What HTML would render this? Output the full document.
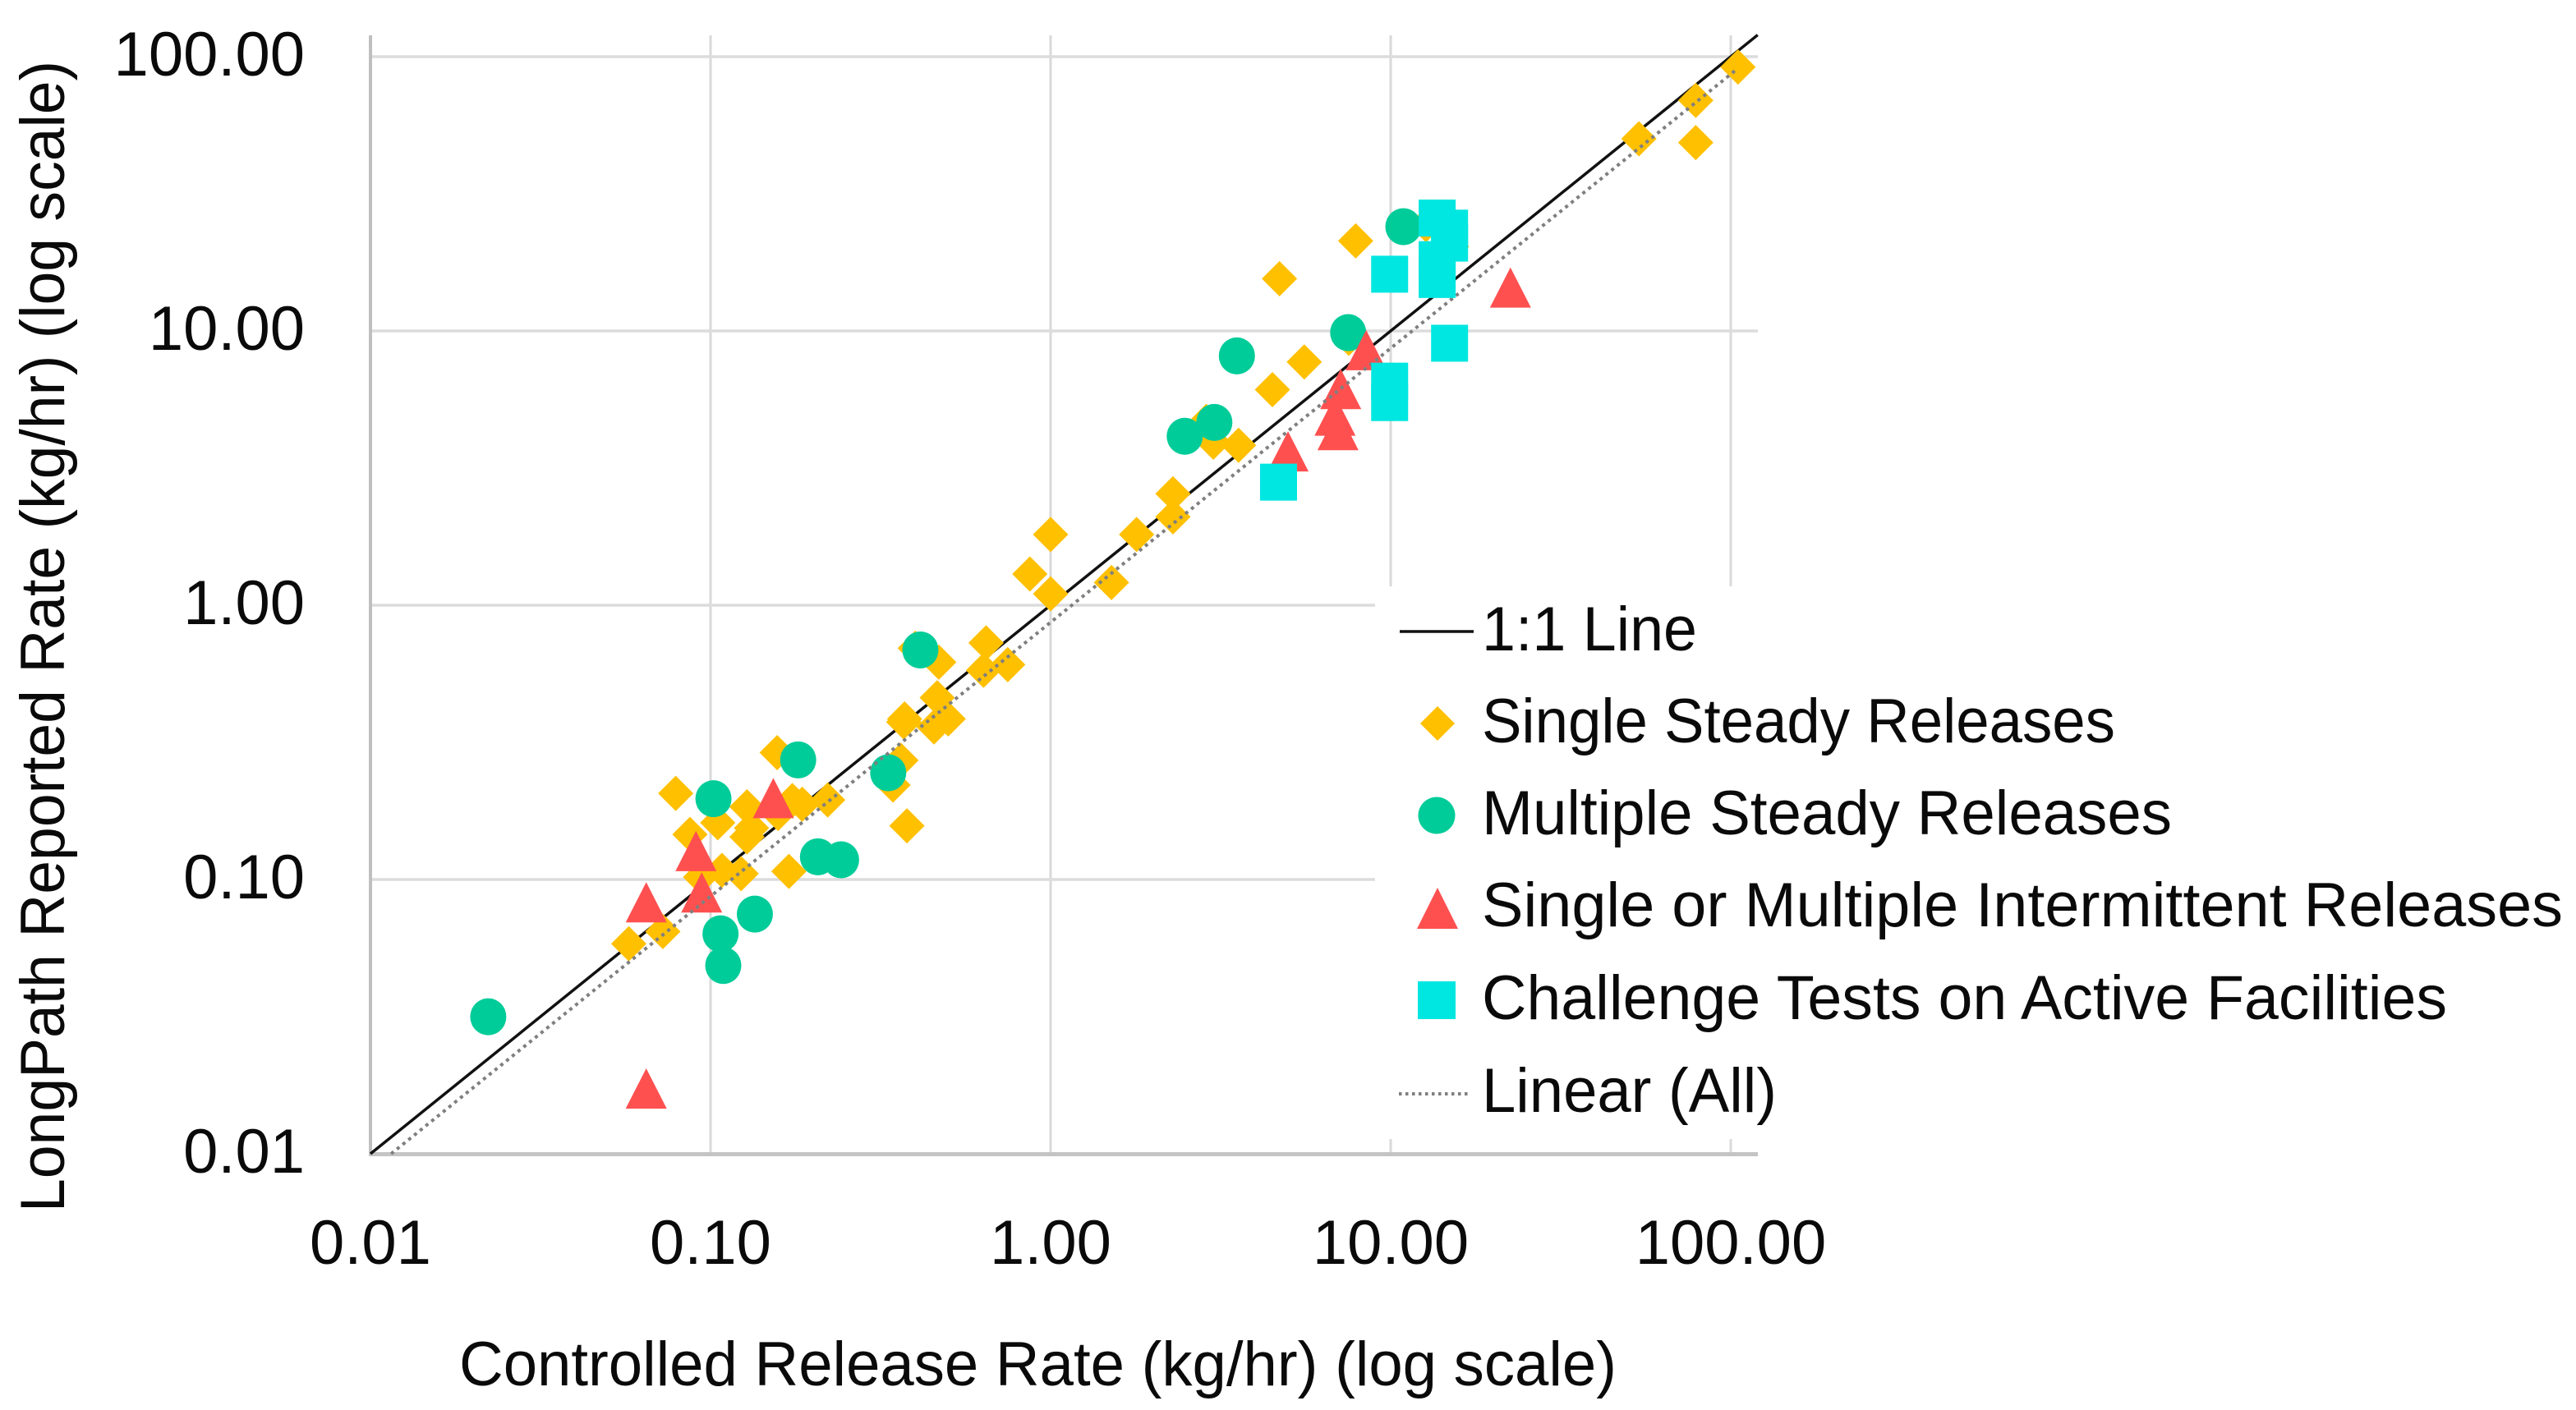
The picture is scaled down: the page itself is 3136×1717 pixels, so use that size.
<!DOCTYPE html>
<html lang="en">
<head>
<meta charset="utf-8">
<title>LongPath Reported Rate vs Controlled Release Rate</title>
<style>
  html, body { margin: 0; padding: 0; background: #ffffff; }
  body { width: 3136px; height: 1717px; overflow: hidden; }
  svg { display: block; }
  text { font-family: "Liberation Sans", sans-serif; fill: #0a0a0a; font-size: 76px; }
</style>
</head>
<body>
<svg id="chart" xmlns="http://www.w3.org/2000/svg" width="3136" height="1717" viewBox="0 0 3136 1717">
  <rect x="0" y="0" width="3136" height="1717" fill="#ffffff"/>
  <g id="grid"></g>
  <line x1="451" y1="43" x2="451" y2="1407" stroke="#bfbfbf" stroke-width="4"/>
  <line x1="449" y1="1405.5" x2="2140" y2="1405.5" stroke="#c4c4c4" stroke-width="5"/>
  <g id="ticks"></g>
  <g id="one-to-one"></g>
  <g id="diamonds"></g>
  <g id="circles"></g>
  <g id="triangles"></g>
  <g id="trend"></g>
  <g id="squares"></g>

  <g>
    <rect x="1674" y="714" width="1462" height="673" fill="#ffffff"/>
    <g>
      <line x1="1704" y1="769" x2="1794" y2="769" stroke="#111111" stroke-width="3.5"/>
      <text x="1804" y="792" textLength="262" lengthAdjust="spacingAndGlyphs">1:1 Line</text>
    </g>
    <g>
      <polygon points="1750,860 1771,881 1750,902 1729,881" fill="#FFC000"/>
      <text x="1804" y="904" textLength="771" lengthAdjust="spacingAndGlyphs">Single Steady Releases</text>
    </g>
    <g>
      <circle cx="1749" cy="993" r="22.5" fill="#00CC99"/>
      <text x="1804" y="1016" textLength="840" lengthAdjust="spacingAndGlyphs">Multiple Steady Releases</text>
    </g>
    <g>
      <polygon points="1750,1081 1775,1131 1725,1131" fill="#FF5050"/>
      <text x="1804" y="1128" textLength="1316" lengthAdjust="spacingAndGlyphs">Single or Multiple Intermittent Releases</text>
    </g>
    <g>
      <rect x="1726" y="1195" width="46" height="46" fill="#00E6E0"/>
      <text x="1804" y="1241" textLength="1175" lengthAdjust="spacingAndGlyphs">Challenge Tests on Active Facilities</text>
    </g>
    <g>
      <line x1="1703" y1="1332" x2="1790" y2="1332" stroke="#7f7f7f" stroke-width="4" stroke-dasharray="3.5 4.5"/>
      <text x="1804" y="1354" textLength="359" lengthAdjust="spacingAndGlyphs">Linear (All)</text>
    </g>
  </g>

  <text x="559" y="1687" textLength="1409" lengthAdjust="spacingAndGlyphs">Controlled Release Rate (kg/hr) (log scale)</text>
  <text transform="translate(78,1476) rotate(-90)" x="0" y="0" textLength="1402" lengthAdjust="spacingAndGlyphs">LongPath Reported Rate (kg/hr) (log scale)</text>
</svg>

<script>
const xTickValues = [0.01, 0.1, 1, 10, 100];
const xTickLabels = ["0.01", "0.10", "1.00", "10.00", "100.00"];
const yTickValues = [0.01, 0.1, 1, 10, 100];
const yTickLabels = ["0.01", "0.10", "1.00", "10.00", "100.00"];

const singleSteadyX = [0.079, 0.087, 0.105, 0.128, 0.132, 0.128, 0.108, 0.0935, 0.123, 0.158, 0.174, 0.186, 0.221, 0.170, 0.0724, 0.0575, 0.157, 0.378, 0.344, 0.363, 0.372, 0.37, 0.464, 0.454, 0.50, 0.469, 0.40, 0.646, 0.635, 0.748, 1.0, 0.869, 1.0, 1.51, 1.79, 2.29, 2.29, 3.57, 3.01, 2.87, 4.49, 5.57, 4.71, 7.89, 7.53, 12.7, 15.1, 53.7, 78.9, 78.9, 105];
const singleSteadyY = [0.206, 0.146, 0.161, 0.184, 0.154, 0.143, 0.108, 0.102, 0.105, 0.174, 0.194, 0.188, 0.195, 0.107, 0.0646, 0.0583, 0.29, 0.157, 0.221, 0.272, 0.385, 0.375, 0.46, 0.36, 0.385, 0.62, 0.697, 0.729, 0.579, 0.607, 1.81, 1.30, 1.10, 1.21, 1.81, 2.10, 2.55, 3.83, 3.93, 4.68, 6.11, 7.71, 15.5, 21.3, 9.4, 24.4, 20.3, 50.2, 69.3, 48.6, 91.7];

const multipleSteadyX = [0.0222, 0.102, 0.181, 0.207, 0.242, 0.135, 0.107, 0.109, 0.333, 0.414, 2.48, 3.03, 3.53, 7.50, 10.9];
const multipleSteadyY = [0.0316, 0.197, 0.273, 0.121, 0.118, 0.0748, 0.0634, 0.0486, 0.245, 0.687, 4.13, 4.64, 8.11, 9.86, 24];

const intermittentX = [0.0647, 0.0647, 0.0906, 0.0942, 0.153, 4.99, 6.86, 7.0, 7.13, 8.47, 22.5];
const intermittentY = [0.0173, 0.0826, 0.127, 0.0897, 0.198, 3.64, 4.91, 4.35, 6.14, 8.51, 14.4];

const challengeX = [4.68, 9.93, 9.93, 9.93, 14.9, 13.7, 14.9, 14.9, 13.7, 13.7];
const challengeY = [2.81, 16.1, 6.56, 5.48, 9.02, 25.8, 23.7, 20.9, 18.2, 15.4];

const oneToOneX = [0.01, 120];
const oneToOneY = [0.01, 120];
const trendX = [0.0115, 105];
const trendY = [0.01, 90.6];

const SVG_NS = "http://www.w3.org/2000/svg";

function xScale(v) { return 451 + (Math.log10(v) + 2) * 414; }
function yScale(v) { return 1405 - (Math.log10(v) + 2) * 334; }
function yTickBaseline(v) { return 92 + (2 - Math.log10(v)) * 334; }

function svgEl(tag, parentId) {
  const el = document.createElementNS(SVG_NS, tag);
  document.getElementById(parentId).appendChild(el);
  return el;
}

xTickValues.forEach(function (v, i) {
  const gl = svgEl("line", "grid");
  
  
  gl.setAttribute("x1", xScale(v));
  gl.setAttribute("x2", xScale(v));
  gl.setAttribute("y1", 43);
  gl.setAttribute("y2", 1405);
  gl.setAttribute("stroke", "#d9d9d9");
  gl.setAttribute("stroke-width", 3);

  const t = svgEl("text", "ticks");
  
  
  t.setAttribute("x", xScale(v));
  t.setAttribute("y", 1539);
  t.setAttribute("text-anchor", "middle");
  t.textContent = xTickLabels[i];
});

yTickValues.forEach(function (v, i) {
  if (v > 0.01) {
    const gl = svgEl("line", "grid");
    
    
    gl.setAttribute("x1", 451);
    gl.setAttribute("x2", 2140);
    gl.setAttribute("y1", yScale(v));
    gl.setAttribute("y2", yScale(v));
    gl.setAttribute("stroke", "#dcdcdc");
    gl.setAttribute("stroke-width", 3.5);
  }

  const t = svgEl("text", "ticks");
  
  
  t.setAttribute("x", 371);
  t.setAttribute("y", yTickBaseline(v));
  t.setAttribute("text-anchor", "end");
  t.textContent = yTickLabels[i];
});

const oneLine = svgEl("line", "one-to-one");


oneLine.setAttribute("x1", xScale(oneToOneX[0]));
oneLine.setAttribute("y1", yScale(oneToOneY[0]));
oneLine.setAttribute("x2", xScale(oneToOneX[1]));
oneLine.setAttribute("y2", yScale(oneToOneY[1]));
oneLine.setAttribute("stroke", "#111111");
oneLine.setAttribute("stroke-width", 3.5);

singleSteadyX.forEach(function (v, i) {
  const cx = xScale(v), cy = yScale(singleSteadyY[i]), r = 21.5;
  const m = svgEl("polygon", "diamonds");
  
  
  m.setAttribute("points", [cx, cy - r, cx + r, cy, cx, cy + r, cx - r, cy].join(" "));
  m.setAttribute("fill", "#FFC000");
});

multipleSteadyX.forEach(function (v, i) {
  const m = svgEl("ellipse", "circles");
  
  
  m.setAttribute("cx", xScale(v));
  m.setAttribute("cy", yScale(multipleSteadyY[i]));
  m.setAttribute("rx", 22);
  m.setAttribute("ry", 22.5);
  m.setAttribute("fill", "#00CC99");
});

intermittentX.forEach(function (v, i) {
  const cx = xScale(v), cy = yScale(intermittentY[i]), w = 25, h = 24.5;
  const m = svgEl("polygon", "triangles");
  
  
  m.setAttribute("points", [cx, cy - h, cx + w, cy + h, cx - w, cy + h].join(" "));
  m.setAttribute("fill", "#FF5050");
});

const trendLine = svgEl("line", "trend");


trendLine.setAttribute("x1", xScale(trendX[0]));
trendLine.setAttribute("y1", yScale(trendY[0]));
trendLine.setAttribute("x2", xScale(trendX[1]));
trendLine.setAttribute("y2", yScale(trendY[1]));
trendLine.setAttribute("stroke", "#7f7f7f");
trendLine.setAttribute("stroke-width", 4);
trendLine.setAttribute("stroke-dasharray", "4 5");

challengeX.forEach(function (v, i) {
  const m = svgEl("rect", "squares");
  
  
  m.setAttribute("x", xScale(v) - 22.5);
  m.setAttribute("y", yScale(challengeY[i]) - 22.5);
  m.setAttribute("width", 45);
  m.setAttribute("height", 45);
  m.setAttribute("fill", "#00E6E0");
});
</script>
</body>
</html>
